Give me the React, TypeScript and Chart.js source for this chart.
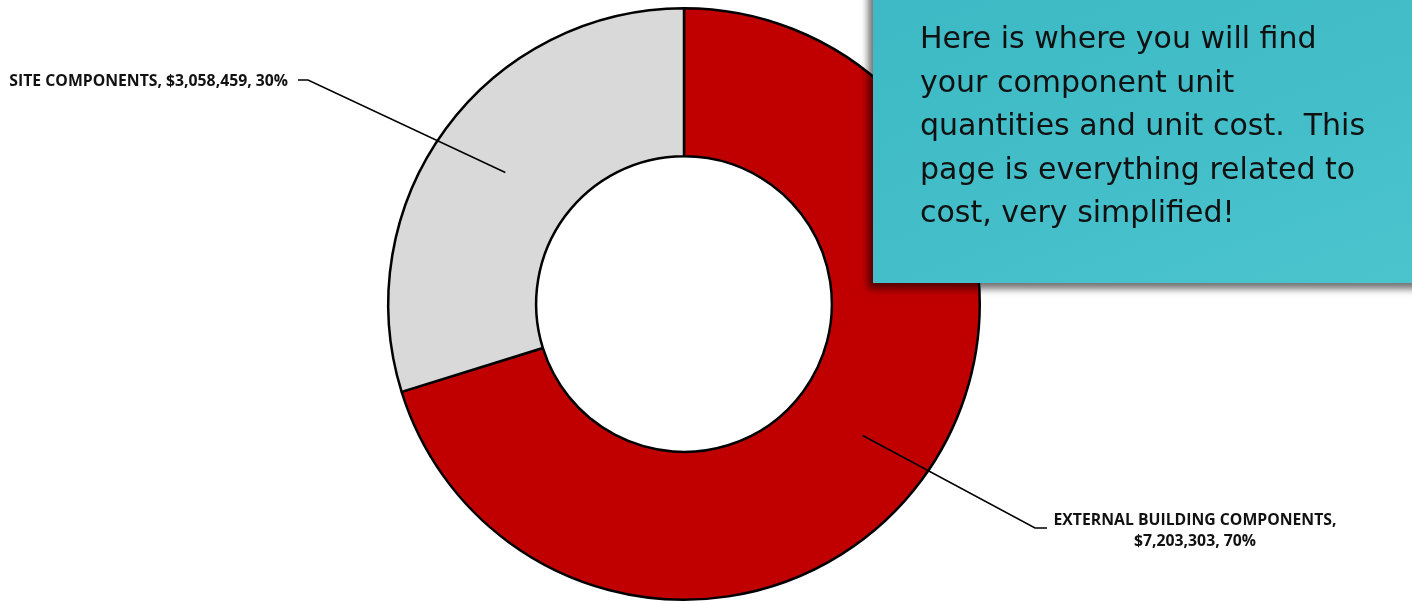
import React, { useEffect, useRef } from "react";
import { Chart, registerables } from "chart.js";

Chart.register(...registerables);

const categories: string[] = ["EXTERNAL BUILDING COMPONENTS", "SITE COMPONENTS"];
const values: number[] = [7203303, 3058459];
const colors: string[] = ["#C00000", "#D9D9D9"];
const noteLines: string[] = [
  "Here is where you will find",
  "your component unit",
  "quantities and unit cost.  This",
  "page is everything related to",
  "cost, very simplified!",
];

const fmtMoney = (v: number) => "$" + v.toLocaleString("en-US");

const LABEL_FAMILY = "'Open Sans', 'Liberation Sans', sans-serif";

const leaderPlugin = {
  id: "leaderLabels",
  afterDatasetsDraw(chart: any) {
    const ctx = chart.ctx as CanvasRenderingContext2D;
    const meta = chart.getDatasetMeta(0);
    const total = values.reduce((a, b) => a + b, 0);
    ctx.save();
    ctx.strokeStyle = "#000";
    ctx.lineWidth = 1.5;
    ctx.fillStyle = "#111";
    const siteText = `${categories[1]}, ${fmtMoney(values[1])}, ${Math.round((values[1] / total) * 100)}%`;
    ctx.font = `bold 12px ${LABEL_FAMILY}`;
    const w12 = ctx.measureText(siteText).width;
    const size = Math.max(10, Math.min(16, (12 * 279) / w12));
    ctx.font = `bold ${size.toFixed(2)}px ${LABEL_FAMILY}`;
    meta.data.forEach((arc: any, i: number) => {
      const p = arc.getProps(["x", "y", "startAngle", "endAngle", "innerRadius", "outerRadius"], true);
      const mid = (p.startAngle + p.endAngle) / 2;
      const r = (p.innerRadius + p.outerRadius) / 2;
      const sx = p.x + Math.cos(mid) * r;
      const sy = p.y + Math.sin(mid) * r;
      const pct = Math.round((values[i] / total) * 100) + "%";
      if (i === 1) {
        const ex = 308, ey = 80;
        ctx.beginPath();
        ctx.moveTo(sx, sy);
        ctx.lineTo(ex, ey);
        ctx.lineTo(ex - 10, ey);
        ctx.stroke();
        ctx.textAlign = "right";
        ctx.textBaseline = "middle";
        ctx.fillText(`${categories[i]}, ${fmtMoney(values[i])}, ${pct}`, 288, ey + 1);
      } else {
        const ex = 1035, ey = 528;
        ctx.beginPath();
        ctx.moveTo(sx, sy);
        ctx.lineTo(ex, ey);
        ctx.lineTo(ex + 12, ey);
        ctx.stroke();
        ctx.textAlign = "center";
        ctx.textBaseline = "middle";
        ctx.fillText(`${categories[i]},`, 1195, 520);
        ctx.fillText(`${fmtMoney(values[i])}, ${pct}`, 1195, 541);
      }
    });
    ctx.restore();
  },
};

export default function App() {
  const ref = useRef<HTMLCanvasElement | null>(null);
  useEffect(() => {
    document.body.style.margin = "0";
    const chart = new Chart(ref.current!, {
      type: "doughnut",
      data: {
        labels: categories,
        datasets: [
          {
            data: values,
            backgroundColor: colors,
            borderColor: "#000",
            borderWidth: 2.5,
            borderAlign: "center",
          },
        ],
      },
      options: {
        animation: false,
        responsive: false,
        cutout: "50%",
        layout: { padding: { top: 7, bottom: 3, left: 0, right: 44 } },
        plugins: {
          legend: { display: false },
          tooltip: { enabled: false },
        },
      },
      plugins: [leaderPlugin],
    });
    return () => chart.destroy();
  }, []);

  return (
    <div style={{ position: "fixed", left: 0, top: 0, width: 1412, height: 604, background: "#fff", overflow: "hidden" }}>
      <canvas ref={ref} width={1412} height={604} style={{ position: "absolute", left: 0, top: 0 }} />
      <div
        style={{
          position: "absolute",
          left: 873,
          top: -20,
          width: 560,
          height: 303,
          background: "linear-gradient(160deg, #3CB9C4 0%, #44BFCA 60%, #4CC4CE 100%)",
          boxShadow: "-5px 6px 7px rgba(0,0,0,0.55)",
        }}
      >
        <div
          style={{
            position: "absolute",
            left: 47,
            top: 36,
            fontFamily: "'DejaVu Sans'",
            fontSize: 30,
            lineHeight: "43.5px",
            color: "#111",
            whiteSpace: "pre",
          }}
        >
          {noteLines.map((l, i) => (
            <div key={i}>{l}</div>
          ))}
        </div>
      </div>
    </div>
  );
}
